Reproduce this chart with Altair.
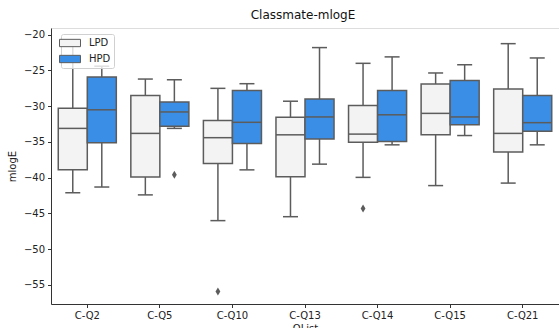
import altair as alt
import pandas as pd

questions = ["C-Q2", "C-Q5", "C-Q10", "C-Q13", "C-Q14", "C-Q15", "C-Q21"]
hues = ["LPD", "HPD"]

lpd_lo = [-42.1, -42.4, -46.0, -45.45, -39.95, -41.1, -40.75]
lpd_q1 = [-38.9, -39.9, -38.0, -39.85, -35.05, -34.0, -36.4]
lpd_med = [-33.1, -33.8, -34.4, -34.0, -33.9, -31.0, -33.8]
lpd_q3 = [-30.3, -28.5, -32.0, -31.55, -29.9, -26.9, -27.6]
lpd_hi = [-21.4, -26.2, -27.5, -29.3, -24.0, -25.35, -21.25]

hpd_lo = [-41.3, -33.1, -38.9, -38.1, -35.4, -34.1, -35.4]
hpd_q1 = [-35.1, -32.8, -35.2, -34.6, -34.95, -32.6, -33.5]
hpd_med = [-30.5, -30.8, -32.25, -31.5, -31.2, -31.5, -32.3]
hpd_q3 = [-25.9, -29.4, -27.8, -29.0, -27.8, -26.4, -28.5]
hpd_hi = [-24.4, -26.3, -26.85, -21.8, -23.1, -24.2, -23.25]

out_q = ["C-Q5", "C-Q10", "C-Q14"]
out_hue = ["HPD", "LPD", "LPD"]
out_val = [-39.6, -55.9, -44.3]

y_ticks = [-20, -25, -30, -35, -40, -45, -50, -55]

EDGE = "#5c5c5c"
FILLS = ["#f3f3f3", "#3a8ee6"]

rows = []
for i, q in enumerate(questions):
    rows.append(dict(q=q, hue="LPD", lo=lpd_lo[i], q1=lpd_q1[i], med=lpd_med[i], q3=lpd_q3[i], hi=lpd_hi[i]))
    rows.append(dict(q=q, hue="HPD", lo=hpd_lo[i], q1=hpd_q1[i], med=hpd_med[i], q3=hpd_q3[i], hi=hpd_hi[i]))
df = pd.DataFrame(rows)
df_out = pd.DataFrame(dict(q=out_q, hue=out_hue, v=out_val))

FONT = "DejaVu Sans"

x_enc = alt.X(
    "q:N",
    sort=questions,
    scale=alt.Scale(domain=questions, paddingInner=0, paddingOuter=0),
    axis=alt.Axis(
        title="QList", labelAngle=0, labelFontSize=10, labelFont=FONT, labelColor="#222",
        titleFontSize=10, titleFont=FONT, titleFontWeight="normal", titleColor="#222",
        tickSize=3.5, tickColor="#333", domainColor="#333", labelPadding=3, titlePadding=3,
    ),
)
xo_enc = alt.XOffset(
    "hue:N", sort=hues,
    scale=alt.Scale(domain=hues, paddingInner=0, paddingOuter=0.25),
)
y_scale = alt.Scale(domain=[-57.66, -19.06], nice=False, zero=False)


def yq(field):
    return alt.Y(
        f"{field}:Q",
        scale=y_scale,
        axis=alt.Axis(
            values=y_ticks, title="mlogE", grid=False, tickSize=3.5, tickColor="#333",
            domainColor="#333", labelFontSize=10, labelFont=FONT, labelColor="#222",
            titleFontSize=10, titleFont=FONT, titleFontWeight="normal", titleColor="#222",
            labelPadding=3, titlePadding=6,
        ),
    )


base = alt.Chart(df)

whisk = base.mark_rule(color=EDGE, strokeWidth=1.5).encode(
    x=x_enc, xOffset=xo_enc, y=yq("lo"), y2="hi:Q"
)
box = base.mark_bar(stroke=EDGE, strokeWidth=1.5).encode(
    x=x_enc, xOffset=xo_enc, y=yq("q1"), y2="q3:Q",
    color=alt.Color(
        "hue:N",
        scale=alt.Scale(domain=hues, range=FILLS),
        legend=alt.Legend(
            title=None, orient="none", legendX=10, legendY=6,
            symbolType="M-2,-0.7L2,-0.7L2,0.7L-2,0.7Z", symbolSize=110,
            symbolStrokeColor=EDGE, symbolStrokeWidth=1, symbolOpacity=1,
            labelFont=FONT, labelFontSize=10, labelColor="#222",
            padding=3, rowPadding=4, fillColor="rgba(255,255,255,0.8)",
            strokeColor="#d0d0d0", cornerRadius=2, labelOffset=13,
        ),
    ),
)
med = base.mark_tick(color=EDGE, thickness=1.5, size=29, opacity=1).encode(
    x=x_enc, xOffset=xo_enc, y=yq("med")
)
cap_lo = base.mark_tick(color=EDGE, thickness=1.5, size=15, opacity=1).encode(
    x=x_enc, xOffset=xo_enc, y=yq("lo")
)
cap_hi = base.mark_tick(color=EDGE, thickness=1.5, size=15, opacity=1).encode(
    x=x_enc, xOffset=xo_enc, y=yq("hi")
)
outl = alt.Chart(df_out).mark_point(
    shape="M0,-1L0.6,0L0,1L-0.6,0Z", filled=True, color=EDGE, size=64, opacity=1
).encode(x=x_enc, xOffset=xo_enc, y=yq("v"))

chart = alt.layer(whisk, box, med, cap_lo, cap_hi, outl).properties(
    width=508,
    height=276,
    padding={"left": 51, "top": 28, "right": 0, "bottom": 24},
    autosize=alt.AutoSizeParams(type="none"),
    title=alt.TitleParams(
        "Classmate-mlogE", fontSize=12, font=FONT, fontWeight="normal",
        color="#111", offset=6, dx=-2,
    ),
).configure_view(stroke="#222", strokeWidth=1).configure(background="white")

chart.save("out.html", embed_options={"renderer": "svg", "actions": False})
